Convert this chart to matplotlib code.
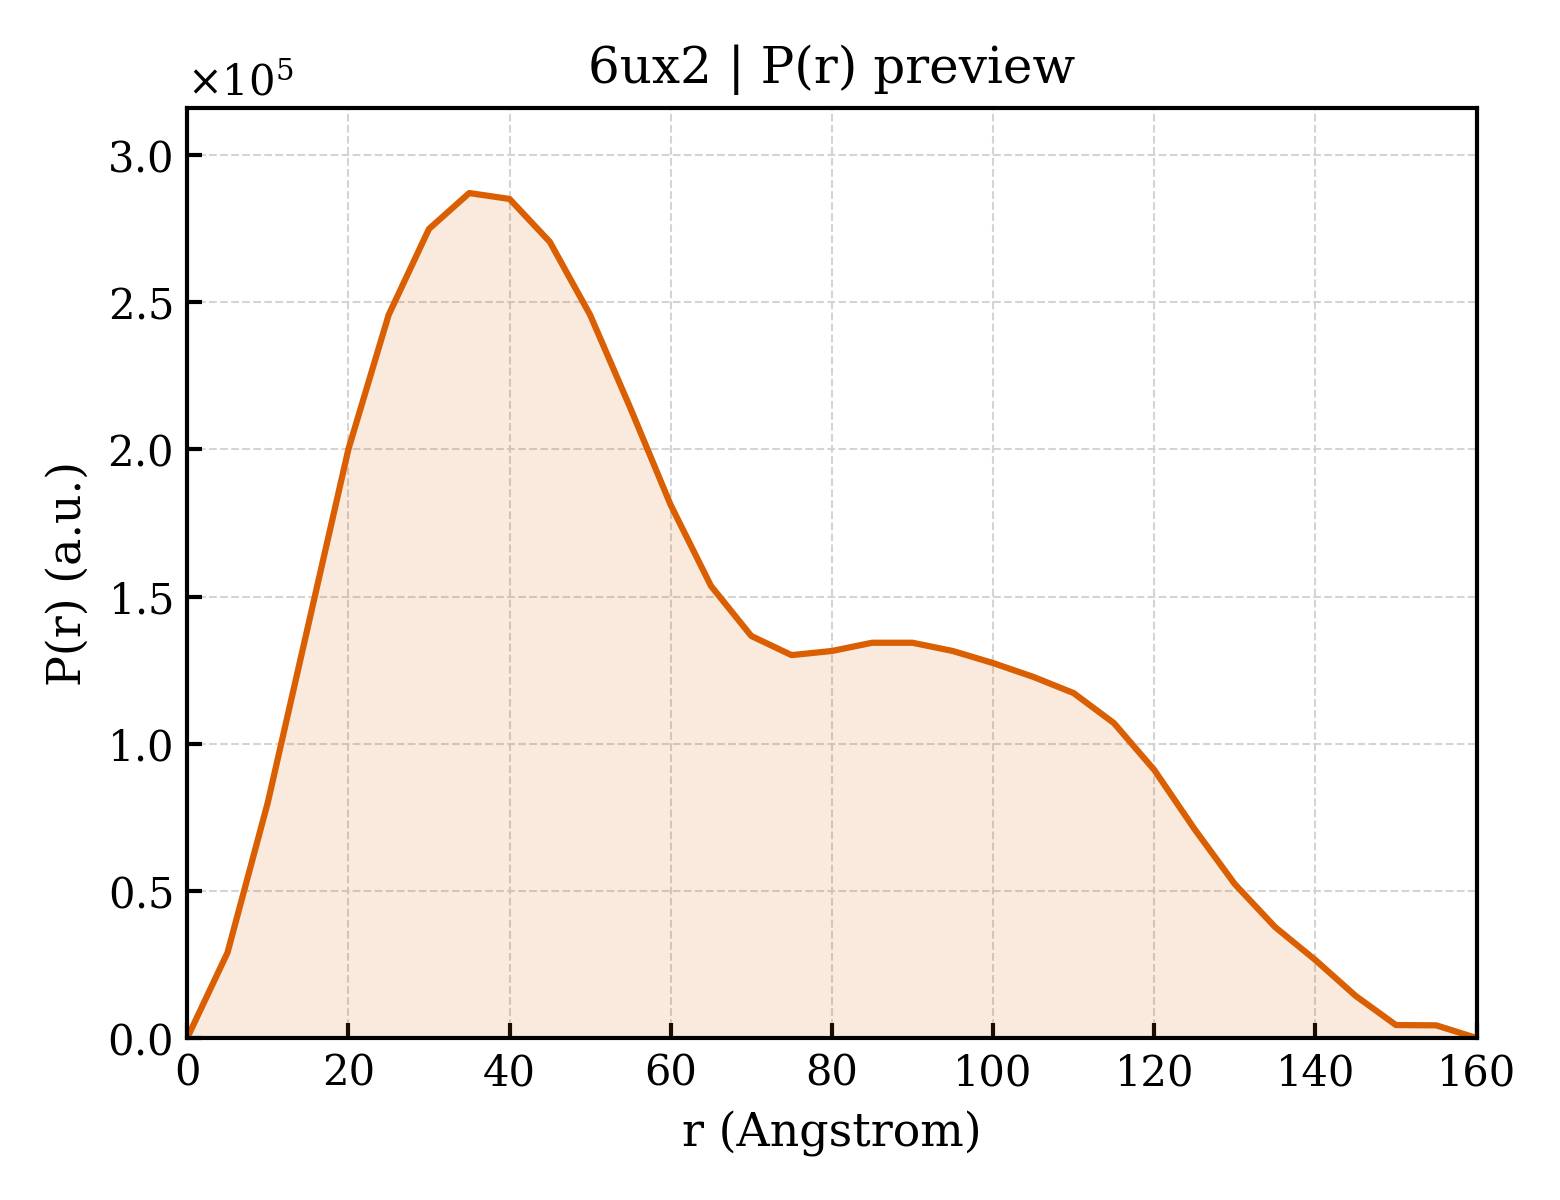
import matplotlib
matplotlib.use("Agg")
import matplotlib.pyplot as plt
from matplotlib.ticker import ScalarFormatter

plt.rcParams["font.family"] = "DejaVu Serif"
plt.rcParams["mathtext.fontset"] = "dejavuserif"

r = [0, 5, 10, 15, 20, 25, 30, 35, 40, 45, 50, 55, 60, 65, 70, 75, 80,
     85, 90, 95, 100, 105, 110, 115, 120, 125, 130, 135, 140, 145, 150, 155, 160]
pr = [0.0, 0.29, 0.80, 1.40, 2.0, 2.457, 2.749, 2.871, 2.851, 2.705, 2.457,
      2.14, 1.811, 1.536, 1.366, 1.301, 1.315, 1.343, 1.343, 1.315, 1.274,
      1.227, 1.172, 1.070, 0.911, 0.71, 0.523, 0.377, 0.265, 0.143, 0.044,
      0.043, 0.0]
pr = [v * 1e5 for v in pr]

color = "#d95f02"

fig = plt.figure(figsize=(5.2, 4), dpi=300)
ax = fig.add_axes([0.12, 0.135, 0.8265, 0.775])

ax.fill_between(r, pr, 0, color=color, alpha=0.13, linewidth=0)
ax.plot(r, pr, color=color, linewidth=1.5)

ax.set_xlim(0, 160)
ax.set_ylim(0, 3.16e5)
ax.set_xticks(range(0, 161, 20))
ax.set_yticks([0, 0.5e5, 1e5, 1.5e5, 2e5, 2.5e5, 3e5])

fmt = ScalarFormatter(useMathText=True)
fmt.set_powerlimits((0, 0))
ax.yaxis.set_major_formatter(fmt)

ax.grid(True, linestyle="--", linewidth=0.5, color="#d0d0d0", alpha=0.9)
ax.set_axisbelow(True)
ax.tick_params(direction="in", length=3.5, width=1.0, labelsize=10)
for s in ax.spines.values():
    s.set_linewidth(1.0)

ax.set_xlabel("r (Angstrom)", fontsize=11)
ax.set_ylabel("P(r) (a.u.)", fontsize=11)
ax.set_title("6ux2 | P(r) preview", fontsize=12)
ax.yaxis.get_offset_text().set_fontsize(10)

fig.savefig("out.png", dpi=300)
